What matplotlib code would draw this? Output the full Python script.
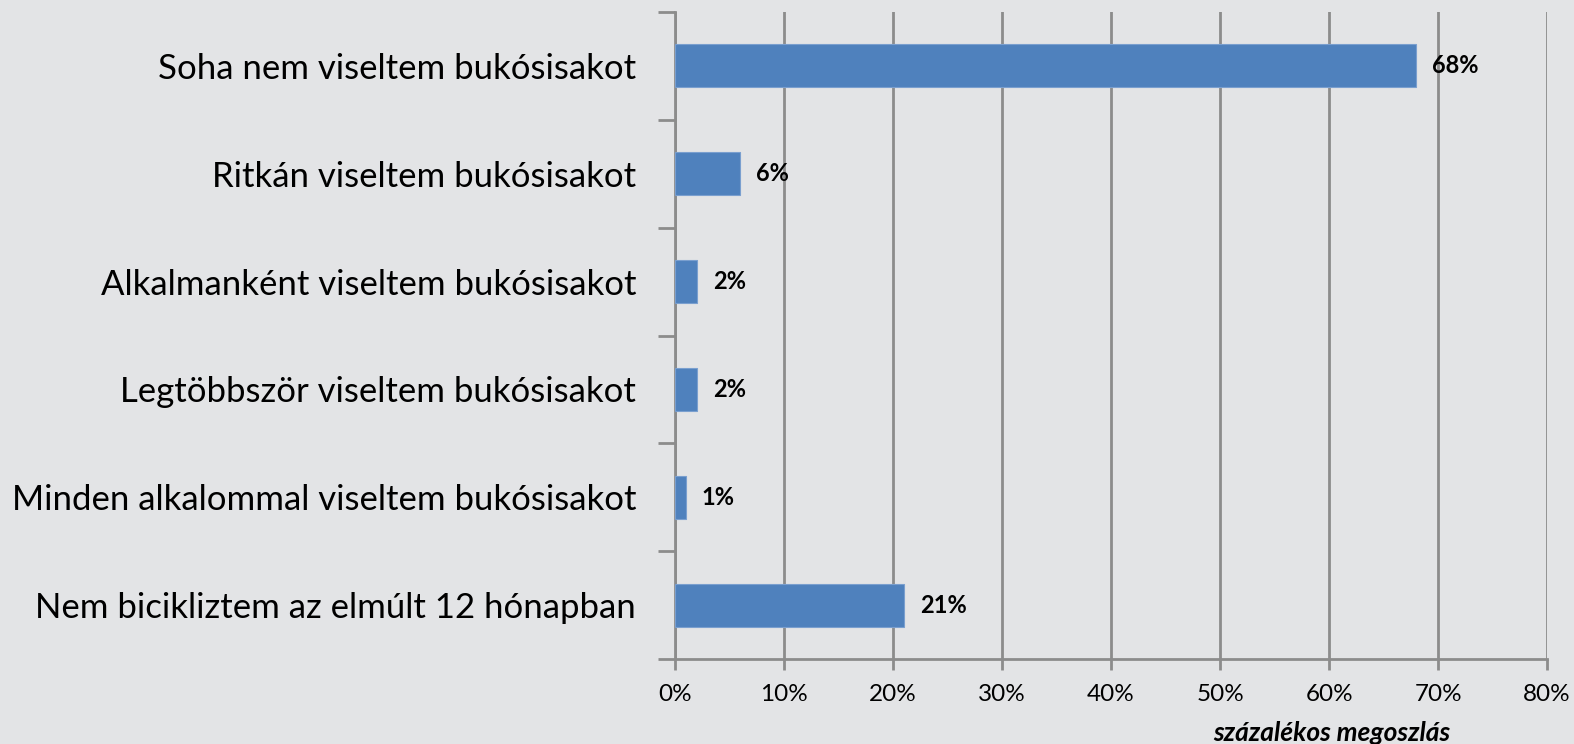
import numpy as np
import matplotlib.pyplot as plt
from matplotlib.ticker import FixedLocator

# adatok
categories = ['Soha nem viseltem bukósisakot',
              'Ritkán viseltem bukósisakot',
              'Alkalmanként viseltem bukósisakot',
              'Legtöbbször viseltem bukósisakot',
              'Minden alkalommal viseltem bukósisakot',
              'Nem bicikliztem az elmúlt 12 hónapban']
values = [68, 6, 2, 2, 1, 21]
xticks = [0, 10, 20, 30, 40, 50, 60, 70, 80]

plt.rcParams['font.family'] = ['Lato', 'DejaVu Sans']
bg = '#e3e4e6'
grid_c = '#8c8c8c'

fig = plt.figure(figsize=(15.74, 7.44), dpi=100, facecolor=bg)
ax = fig.add_axes([0.4289, 0.1142, 0.554, 0.8697])
ax.set_facecolor('none')

y = np.arange(len(categories))
ax.barh(y, values, height=0.4, color='#4f81bd', edgecolor='#7a9fcf', linewidth=0.8, zorder=3)
for yi, v in zip(y, values):
    ax.text(v + 1.45, yi, f'{v}%', va='center', ha='left', fontsize=17, fontweight='bold', zorder=4)

ax.set_xlim(0, 80)
ax.set_ylim(len(categories) - 0.5, -0.5)
ax.set_xticks(xticks)
ax.set_xticklabels([f'{t}%' for t in xticks], fontsize=17.5)
ax.set_yticks(y)
ax.set_yticklabels(categories, fontsize=25)
ax.yaxis.set_minor_locator(FixedLocator(np.arange(-0.5, len(categories), 1)))
ax.tick_params(axis='y', which='major', length=0, pad=28)
ax.tick_params(axis='y', which='minor', length=12, width=2, color=grid_c)
ax.tick_params(axis='x', length=8, width=2, color=grid_c, pad=10)

ax.grid(axis='x', color=grid_c, linewidth=2, zorder=0)
for s in ['top', 'right']:
    ax.spines[s].set_visible(False)
for s in ['left', 'bottom']:
    ax.spines[s].set_color(grid_c)
    ax.spines[s].set_linewidth(2)

fig.text(1450 / 1574, 1 - 733 / 744, 'százalékos megoszlás', ha='right', va='center',
         fontsize=19, fontweight='bold', style='italic')

plt.savefig('out.png', dpi=100, facecolor=bg)
